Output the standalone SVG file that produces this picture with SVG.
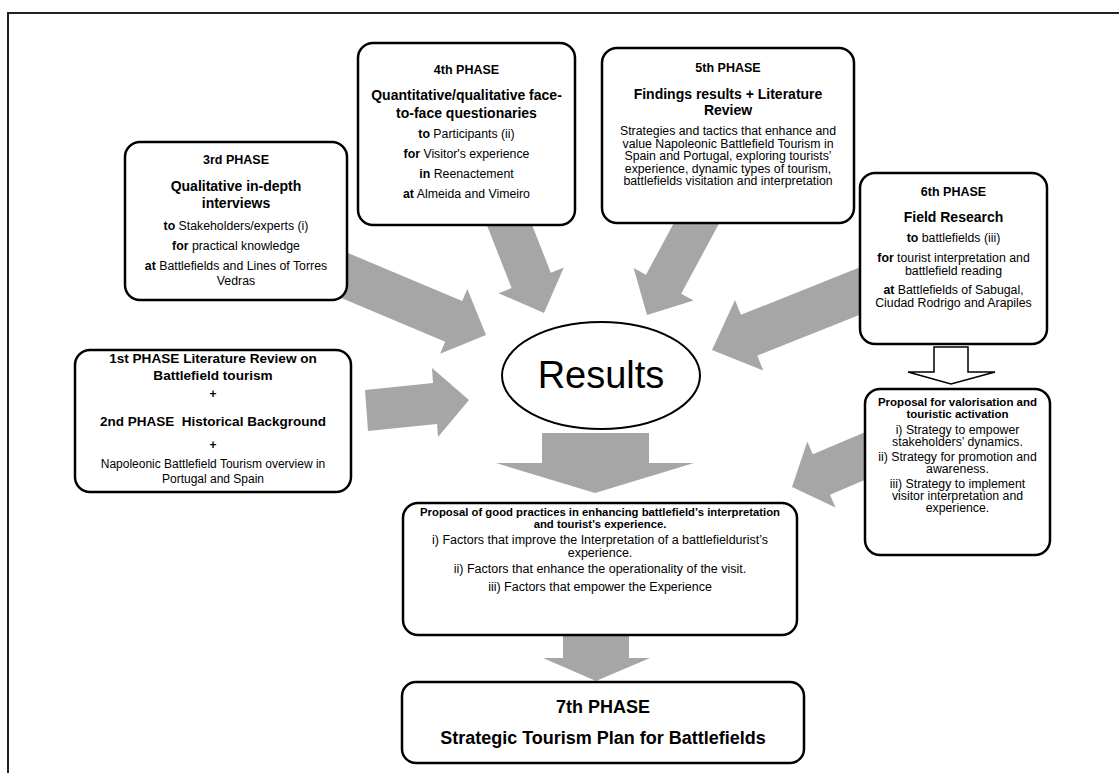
<svg xmlns="http://www.w3.org/2000/svg" width="1119" height="773" viewBox="0 0 1119 773">
<style>
.frame{fill:none;stroke:#222;stroke-width:2}
.box{fill:#fff;stroke:#000;stroke-width:2.5}
.arr{fill:#a6a6a6;stroke:none}
.hollow{fill:#fff;stroke:#000;stroke-width:1.5}
text{font-family:"Liberation Sans",Arial,sans-serif;text-anchor:middle;dominant-baseline:central;fill:#000}
.h{font-weight:bold;font-size:12.5px}
.ti{font-weight:bold;font-size:14px}
.r{font-size:12.3px}
.b{font-weight:bold}
.sb{font-weight:bold;font-size:11.5px}
.gb{font-weight:bold;font-size:11.3px}
.gr{font-size:12.5px}
.big{font-weight:bold;font-size:18px}
.res{font-size:38px}
</style>
<rect width="1119" height="773" fill="#fff"/>
<path class="frame" d="M8,773 V13 H1119"/>
<g id="connectors">
<polygon class="arr" points="305.5,235.1 462.2,301.1 467.3,289.1 486,335 440.1,353.7 445.2,341.7 288.5,275.7"/>
<polygon class="arr" points="478.7,204.3 517.9,188.9 550.8,272.7 563.8,267.6 544,313 498.6,293.2 511.6,288.1"/>
<polygon class="arr" points="693.5,186.6 728.7,205.6 681.2,293.7 693.6,300.4 647,315 633.6,268 646,274.7"/>
<polygon class="arr" points="891.8,254.6 740.9,314.8 735,299.9 712,350 763.2,370.5 757.3,355.6 908.2,295.4"/>
<polygon class="arr" points="365,390 433,383 432,368 469,400 438,437 437,424 368,431"/>
<polygon class="arr" points="893.2,420.2 812.8,454.3 807.3,441.4 792,487 835.5,507.6 830,494.7 910.4,460.6"/>
<polygon class="arr" points="542,433 649,433 649,463 694,463 595,493 496,463 542,463"/>
<polygon class="arr" points="563,630 629,630 629,658 650,658 596,681 543,658 563,658"/>
<polygon class="hollow" points="934,347 968,347 968,372 995,372 951,384 908,372 934,372"/>
</g>
<g id="phase3">
<rect class="box" x="125" y="142" width="222" height="158" rx="15"/>
<text class="h" x="236" y="160">3rd PHASE</text>
<text class="ti" x="236" y="186">Qualitative in-depth</text>
<text class="ti" x="236" y="203">interviews</text>
<text class="r" x="236" y="226"><tspan class="b">to</tspan> Stakeholders/experts (i)</text>
<text class="r" x="236" y="246"><tspan class="b">for</tspan> practical knowledge</text>
<text class="r" x="236" y="266"><tspan class="b">at</tspan> Battlefields and Lines of Torres</text>
<text class="r" x="236" y="281">Vedras</text>
</g>
<g id="phase4">
<rect class="box" x="358" y="43" width="217" height="182" rx="15"/>
<text class="h" x="466.5" y="70">4th PHASE</text>
<text class="ti" x="466.5" y="95">Quantitative/qualitative face-</text>
<text class="ti" x="466.5" y="113">to-face questionaries</text>
<text class="r" x="466.5" y="134"><tspan class="b">to</tspan> Participants (ii)</text>
<text class="r" x="466.5" y="154"><tspan class="b">for</tspan> Visitor's experience</text>
<text class="r" x="466.5" y="174"><tspan class="b">in</tspan> Reenactement</text>
<text class="r" x="466.5" y="194"><tspan class="b">at</tspan> Almeida and Vimeiro</text>
</g>
<g id="phase5">
<rect class="box" x="602" y="48" width="252" height="175" rx="15"/>
<text class="h" x="728" y="68">5th PHASE</text>
<text class="ti" x="728" y="94">Findings results + Literature</text>
<text class="ti" x="728" y="110">Review</text>
<text class="r" x="728" y="131">Strategies and tactics that enhance and</text>
<text class="r" x="728" y="143.5">value Napoleonic Battlefield Tourism in</text>
<text class="r" x="728" y="156">Spain and Portugal, exploring tourists’</text>
<text class="r" x="728" y="168.5">experience, dynamic types of tourism,</text>
<text class="r" x="728" y="181">battlefields visitation and interpretation</text>
</g>
<g id="phase6">
<rect class="box" x="860" y="173" width="187" height="171" rx="15"/>
<text class="h" x="953.5" y="192">6th PHASE</text>
<text class="ti" x="953.5" y="217">Field Research</text>
<text class="r" x="953.5" y="238"><tspan class="b">to</tspan> battlefields (iii)</text>
<text class="r" x="953.5" y="258"><tspan class="b">for</tspan> tourist interpretation and</text>
<text class="r" x="953.5" y="271">battlefield reading</text>
<text class="r" x="953.5" y="290"><tspan class="b">at</tspan> Battlefields of Sabugal,</text>
<text class="r" x="953.5" y="303">Ciudad Rodrigo and Arapiles</text>
</g>
<g id="results">
<ellipse class="box" cx="601" cy="375.5" rx="99" ry="53.5" style="stroke-width:2"/>
<text class="res" x="601" y="375">Results</text>
</g>
<g id="phase1-2">
<rect class="box" x="75" y="350" width="276" height="142" rx="15"/>
<text class="b" x="213" y="358" style="font-size:13.6px">1st PHASE Literature Review on</text>
<text class="b" x="213" y="375" style="font-size:13.6px">Battlefield tourism</text>
<text class="b" x="213" y="394" style="font-size:12px">+</text>
<text class="b" x="213" y="421" style="font-size:13.5px" xml:space="preserve">2nd PHASE  Historical Background</text>
<text class="b" x="213" y="445" style="font-size:12px">+</text>
<text x="213" y="464" style="font-size:12px">Napoleonic Battlefield Tourism overview in</text>
<text x="213" y="479" style="font-size:12px">Portugal and Spain</text>
</g>
<g id="valorisation">
<rect class="box" x="865" y="389" width="185" height="166" rx="15"/>
<text class="sb" x="957.5" y="402">Proposal for valorisation and</text>
<text class="sb" x="957.5" y="414">touristic activation</text>
<text class="r" x="957.5" y="430">i) Strategy to empower</text>
<text class="r" x="957.5" y="442">stakeholders’ dynamics.</text>
<text class="r" x="957.5" y="457">ii) Strategy for promotion and</text>
<text class="r" x="957.5" y="469">awareness.</text>
<text class="r" x="957.5" y="484">iii) Strategy to implement</text>
<text class="r" x="957.5" y="496">visitor interpretation and</text>
<text class="r" x="957.5" y="508">experience.</text>
</g>
<g id="good-practices">
<rect class="box" x="403" y="503" width="394" height="132" rx="15"/>
<text class="gb" x="600" y="512">Proposal of good practices in enhancing battlefield’s interpretation</text>
<text class="gb" x="600" y="524">and tourist’s experience.</text>
<text class="gr" x="600" y="540">i) Factors that improve the Interpretation of a battlefieldurist’s</text>
<text class="gr" x="600" y="553">experience.</text>
<text class="gr" x="600" y="569">ii) Factors that enhance the operationality of the visit.</text>
<text class="gr" x="600" y="587">iii) Factors that empower the Experience</text>
</g>
<g id="phase7">
<rect class="box" x="402" y="682" width="402" height="81" rx="14"/>
<text class="big" x="603" y="707">7th PHASE</text>
<text class="big" x="603" y="738">Strategic Tourism Plan for Battlefields</text>
</g>
</svg>
